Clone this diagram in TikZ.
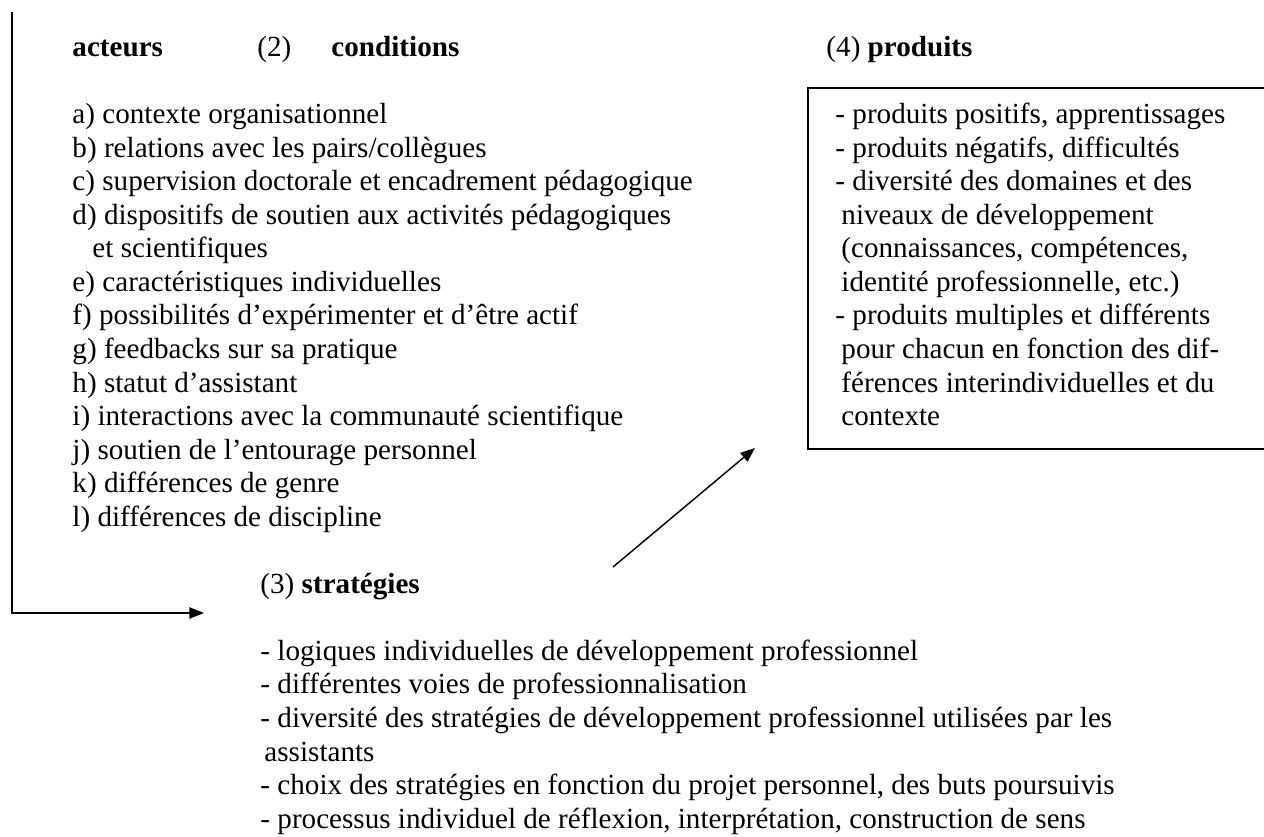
\documentclass[tikz,border=0pt]{standalone}
\usepackage{fontspec}
\setmainfont{Liberation Serif}
\usetikzlibrary{arrows.meta}

\tikzset{
  txtline/.style={anchor=base west, inner sep=0pt, font=\fontsize{12pt}{13.8pt}\selectfont},
  headline/.style={txtline, font=\fontsize{12pt}{13.8pt}\selectfont\bfseries},
  link/.style={line width=0.6pt, -{Triangle[length=6pt,width=4.6pt]}},
}

\begin{document}
\begin{tikzpicture}[x=0.412pt, y=-0.412pt]
  \def\lh{33.55} \def\basey{56.5}%
  \useasboundingbox (0,0) rectangle (1264,837);

  % headings
  \node[headline] (acteurs) at (72,\basey) {acteurs};
  \node[txtline] (num2) at (257,\basey) {(2)};
  \node[headline] (conditions) at (331,\basey) {conditions};
  \node[txtline] (produits) at (826,\basey) {(4) \textbf{produits}};

  % (2) conditions
  \foreach \n/\x/\txt in {2/72/{a) contexte organisationnel},
      3/72/{b) relations avec les pairs/collègues},
      4/72/{c) supervision doctorale et encadrement pédagogique},
      5/72/{d) dispositifs de soutien aux activités pédagogiques},
      6/92/{et scientifiques},
      7/72/{e) caractéristiques individuelles},
      8/72/{f) possibilités d’expérimenter et d’être actif},
      9/72/{g) feedbacks sur sa pratique},
      10/72/{h) statut d’assistant},
      11/72/{i) interactions avec la communauté scientifique},
      12/72/{j) soutien de l’entourage personnel},
      13/72/{k) différences de genre},
      14/72/{l) différences de discipline}}
    \node[txtline] (cond\n) at (\x,{\basey+\n*\lh}) {\txt};

  % (4) produits
  \coordinate (boxnw) at (808,88); \coordinate (boxse) at (1266,449);
  \draw[line width=0.6pt] (boxnw) rectangle (boxse);
  \foreach \n/\x/\txt in {2/835/{- produits positifs, apprentissages},
      3/835/{- produits négatifs, difficultés},
      4/835/{- diversité des domaines et des},
      5/841/{niveaux de développement},
      6/841/{(connaissances, compétences,},
      7/841/{identité professionnelle, etc.)},
      8/835/{- produits multiples et différents},
      9/841/{pour chacun en fonction des dif-},
      10/841/{férences interindividuelles et du},
      11/841/{contexte}}
    \node[txtline] (prod\n) at (\x,{\basey+\n*\lh}) {\txt};

  % (3) strategies
  \node[txtline] (strategies) at (260,{\basey+16*\lh}) {(3) \textbf{stratégies}};
  \foreach \n/\x/\txt in {18/260/{- logiques individuelles de développement professionnel},
      19/260/{- différentes voies de professionnalisation},
      20/260/{- diversité des stratégies de développement professionnel utilisées par les},
      21/264/{assistants},
      22/260/{- choix des stratégies en fonction du projet personnel, des buts poursuivis},
      23/260/{- processus individuel de réflexion, interprétation, construction de sens}}
    \node[txtline] (strat\n) at (\x,{\basey+\n*\lh}) {\txt};

  % connectors
  \coordinate (acttop) at (12,12); \coordinate (stratin) at (204,613);
  \draw[link] (acttop) |- (stratin);
  \coordinate (stratout) at (613,567); \coordinate (prodin) at (755,448);
  \draw[link] (stratout) -- (prodin);
\end{tikzpicture}
\end{document}
